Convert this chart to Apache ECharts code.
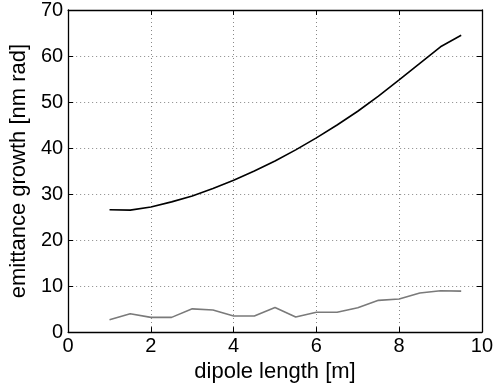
<!DOCTYPE html>
<html><head><meta charset="utf-8">
<script src="https://cdn.jsdelivr.net/npm/echarts@6/dist/echarts.min.js"></script>
<style>html,body{margin:0;padding:0;background:#fff}#c{width:496px;height:388px}</style>
</head><body><div id="c"></div>
<script>
const dipoleLength = [1,1.5,2,2.5,3,3.5,4,4.5,5,5.5,6,6.5,7,7.5,8,8.5,9,9.5];
const growthBlack = [26.6,26.5,27.2,28.3,29.6,31.2,33.0,35.0,37.2,39.6,42.2,45.0,48.0,51.3,54.8,58.4,62.0,64.5];
const growthGray = [2.7,4.0,3.2,3.2,5.05,4.8,3.5,3.5,5.35,3.3,4.3,4.3,5.3,6.9,7.2,8.5,9.0,8.9];
const xTicks = [0,2,4,6,8,10];
const yTicks = [0,10,20,30,40,50,60,70];

const font = 'Liberation Sans, Arial, Helvetica, sans-serif';
const chart = echarts.init(document.getElementById('c'), null, {renderer:'canvas'});
const gridLine = {show:true, lineStyle:{color:'#888', type:[1,3], width:1}};
const axisLine = {show:true, onZero:false, lineStyle:{color:'#000', width:1.3}};
const tick = {show:true, inside:true, length:5, lineStyle:{color:'#000', width:1}};
chart.setOption({
  animation:false,
  grid:{left:67, right:13, top:10, bottom:55, containLabel:false},
  xAxis:[{
    type:'value', min:0, max:10, interval:2, position:'bottom',
    axisLine, axisTick:tick, splitLine:gridLine,
    axisLabel:{color:'#000', fontSize:20, fontFamily:font, margin:4},
    name:'dipole length [m]', nameLocation:'middle', nameGap:26,
    nameTextStyle:{color:'#000', fontSize:22, fontFamily:font}
  },{
    type:'value', min:0, max:10, interval:2, position:'top',
    axisLine, axisTick:tick, splitLine:{show:false}, axisLabel:{show:false}
  }],
  yAxis:[{
    type:'value', min:0, max:70, interval:10, position:'left',
    axisLine, axisTick:tick, splitLine:gridLine,
    axisLabel:{color:'#000', fontSize:20, fontFamily:font, margin:5},
    name:'emittance growth [nm rad]', nameLocation:'middle', nameGap:27,
    nameTextStyle:{color:'#000', fontSize:22, fontFamily:font}
  },{
    type:'value', min:0, max:70, interval:10, position:'right',
    axisLine, axisTick:tick, splitLine:{show:false}, axisLabel:{show:false}
  }],
  series:[{
    type:'line', data:dipoleLength.map((x,i)=>[x,growthBlack[i]]),
    showSymbol:false, lineStyle:{color:'#000', width:1.6}
  },{
    type:'line', data:dipoleLength.map((x,i)=>[x,growthGray[i]]),
    showSymbol:false, lineStyle:{color:'#7a7a7a', width:1.6}
  }]
});
</script></body></html>
